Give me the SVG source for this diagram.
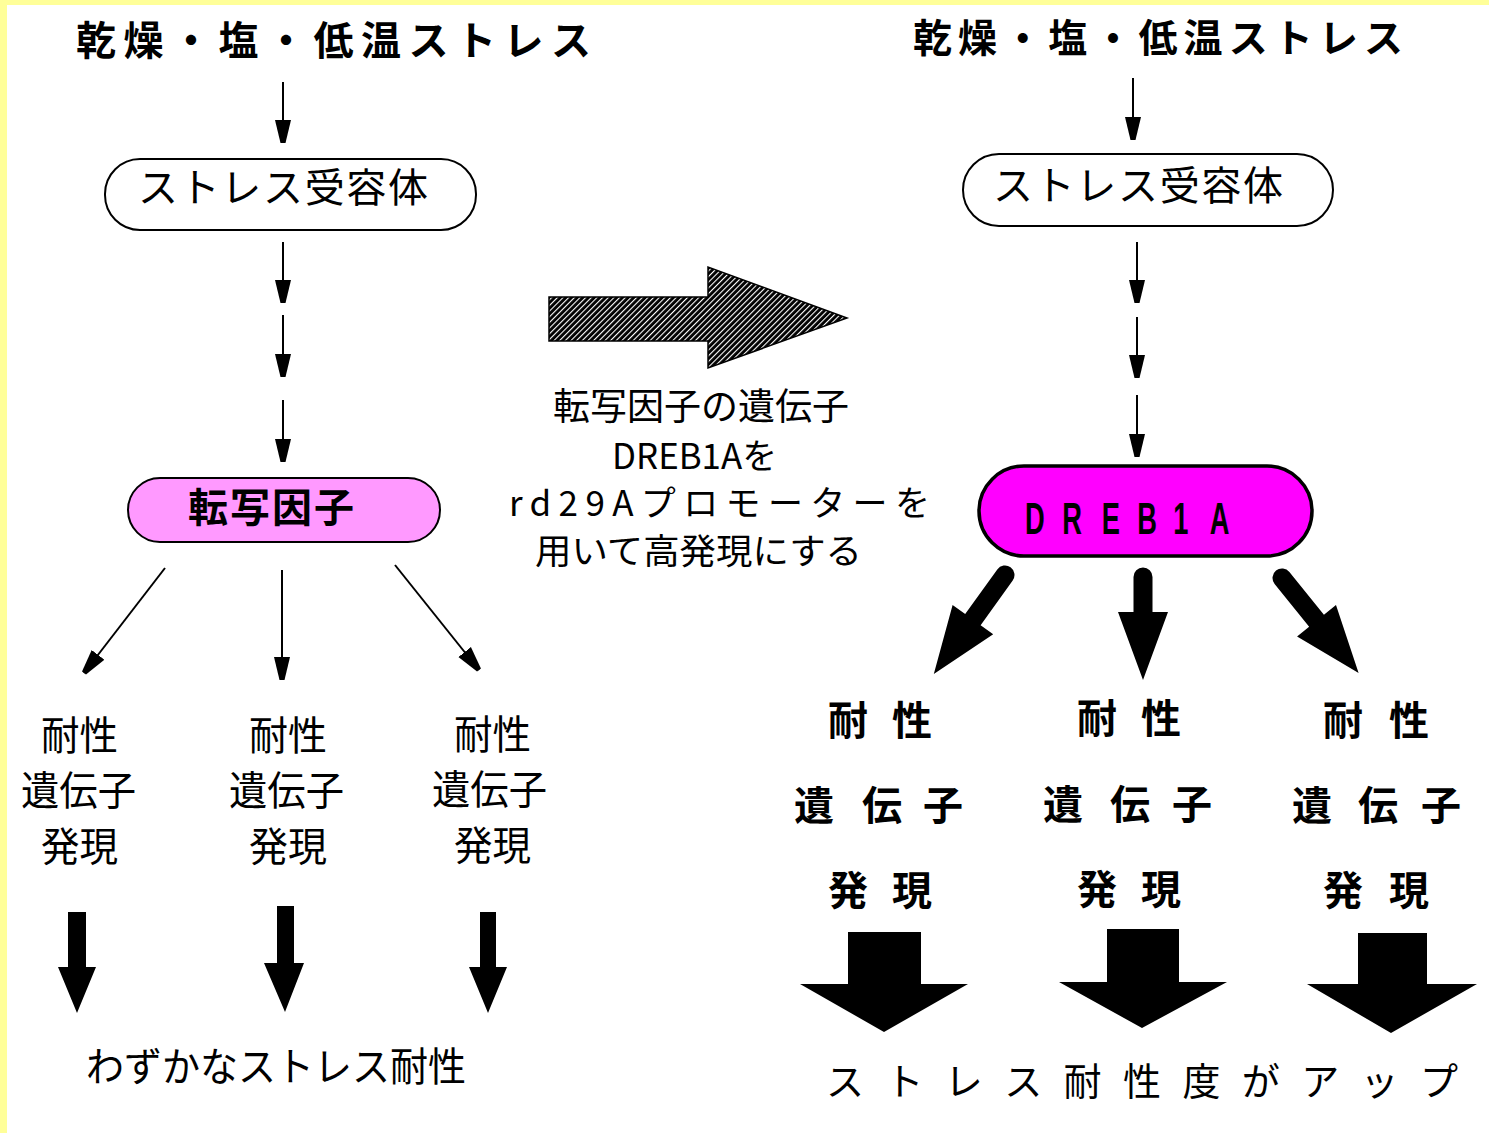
<svg xmlns="http://www.w3.org/2000/svg" width="1489" height="1133" viewBox="0 0 1489 1133">
<style>
.jp{font-family:"Noto Sans CJK JP","Noto Sans CJK SC",sans-serif;fill:#000}
.b{font-weight:bold}
.pill{stroke:#000;stroke-width:2}
.thin{stroke:#000;stroke-width:2;fill:none}
.blk{fill:#000}
</style>
<defs>
<marker id="ah" markerUnits="userSpaceOnUse" markerWidth="30" markerHeight="20" viewBox="0 -10 30 20" refX="23" refY="0" orient="auto">
<path d="M0,-8 L0,8 L23,2.5 L23,-2.5 Z" fill="#000"/>
</marker>
<pattern id="hatch" width="4" height="4" patternUnits="userSpaceOnUse" patternTransform="rotate(45)">
<rect width="4" height="4" fill="#000"/>
<rect x="0" y="0" width="1.1" height="4" fill="#fff"/>
</pattern>
</defs>
<rect x="0" y="0" width="1489" height="1133" fill="#FFFF99"/>
<rect x="7" y="5" width="1482" height="1128" fill="#FFFFFF"/>

<!-- Left column -->
<g id="left-title"><text class="jp b" x="76" y="55" font-size="40" textLength="515" lengthAdjust="spacing">乾燥・塩・低温ストレス</text></g>
<g id="left-receptor">
<rect class="pill" x="105" y="159" width="371" height="71" rx="35" ry="35" fill="#fff"/>
<text class="jp" x="138" y="202" font-size="40" textLength="290" lengthAdjust="spacing">ストレス受容体</text>
</g>
<g id="left-tf">
<rect class="pill" x="128" y="478" width="312" height="64" rx="32" ry="32" fill="#FF99FF"/>
<text class="jp b" x="188" y="522" font-size="40" textLength="166" lengthAdjust="spacing">転写因子</text>
</g>
<g id="left-gene1">
<text class="jp" x="41" y="750" font-size="40" textLength="77" lengthAdjust="spacingAndGlyphs">耐性</text>
<text class="jp" x="21" y="805" font-size="40" textLength="115" lengthAdjust="spacingAndGlyphs">遺伝子</text>
<text class="jp" x="41" y="861" font-size="40" textLength="77" lengthAdjust="spacingAndGlyphs">発現</text>
</g>
<g id="left-gene2">
<text class="jp" x="249" y="750" font-size="40" textLength="78" lengthAdjust="spacingAndGlyphs">耐性</text>
<text class="jp" x="229" y="805" font-size="40" textLength="115" lengthAdjust="spacingAndGlyphs">遺伝子</text>
<text class="jp" x="249" y="861" font-size="40" textLength="78" lengthAdjust="spacingAndGlyphs">発現</text>
</g>
<g id="left-gene3">
<text class="jp" x="454" y="749" font-size="40" textLength="77" lengthAdjust="spacingAndGlyphs">耐性</text>
<text class="jp" x="432" y="804" font-size="40" textLength="115" lengthAdjust="spacingAndGlyphs">遺伝子</text>
<text class="jp" x="454" y="860" font-size="40" textLength="77" lengthAdjust="spacingAndGlyphs">発現</text>
</g>
<g id="left-result"><text class="jp" x="86" y="1081" font-size="40" textLength="380" lengthAdjust="spacingAndGlyphs">わずかなストレス耐性</text></g>

<!-- Middle -->
<g id="middle-arrow">
<path d="M549,297 H708 V267 L847,318 L708,368 V341 H549 Z" fill="url(#hatch)" stroke="#000" stroke-width="1.5"/>
</g>
<g id="middle-label">
<text class="jp" x="553" y="420" font-size="37" textLength="296" lengthAdjust="spacingAndGlyphs">転写因子の遺伝子</text>
<text class="jp" x="612" y="469" font-size="35" textLength="165" lengthAdjust="spacingAndGlyphs">DREB1Aを</text>
<text class="jp" x="509" y="516" font-size="35" textLength="421" lengthAdjust="spacing">rd29Aプロモーターを</text>
<text class="jp" x="535" y="564" font-size="35" textLength="327" lengthAdjust="spacingAndGlyphs">用いて高発現にする</text>
</g>

<!-- Right column -->
<g id="right-title"><text class="jp b" x="913" y="52" font-size="39" textLength="490" lengthAdjust="spacing">乾燥・塩・低温ストレス</text></g>
<g id="right-receptor">
<rect class="pill" x="963" y="154" width="370" height="72" rx="36" ry="36" fill="#fff"/>
<text class="jp" x="993" y="200" font-size="40" textLength="290" lengthAdjust="spacing">ストレス受容体</text>
</g>
<g id="right-dreb1a">
<rect x="979" y="466" width="333" height="90" rx="45" ry="45" fill="#FF00FF" stroke="#000" stroke-width="3.5"/>
<text transform="translate(1025,534) scale(0.62,1)" x="0 60 124 181 239 298" y="0" font-family="Liberation Sans, sans-serif" font-weight="bold" font-size="44" fill="#000">DREB1A</text>
</g>
<g id="right-gene1">
<text class="jp b" font-size="40" x="828 892" y="735">耐性</text>
<text class="jp b" font-size="40" x="794 862 923" y="820">遺伝子</text>
<text class="jp b" font-size="40" x="828 892" y="905">発現</text>
</g>
<g id="right-gene2">
<text class="jp b" font-size="40" x="1077 1141" y="733">耐性</text>
<text class="jp b" font-size="40" x="1043 1110 1172" y="819">遺伝子</text>
<text class="jp b" font-size="40" x="1077 1141" y="904">発現</text>
</g>
<g id="right-gene3">
<text class="jp b" font-size="40" x="1323 1389" y="735">耐性</text>
<text class="jp b" font-size="40" x="1292 1358 1421" y="820">遺伝子</text>
<text class="jp b" font-size="40" x="1323 1389" y="905">発現</text>
</g>
<g id="right-result"><text class="jp" font-size="38" y="1095" x="826 885.4 944.8 1004.2 1063.6 1123 1182.4 1241.8 1301.2 1360.6 1420">ストレス耐性度がアップ</text></g>

<!-- Connectors -->
<g id="connectors">
<line class="thin" x1="283" y1="82" x2="283" y2="143" marker-end="url(#ah)"/>
<line class="thin" x1="283" y1="242" x2="283" y2="303" marker-end="url(#ah)"/>
<line class="thin" x1="283" y1="315" x2="283" y2="377" marker-end="url(#ah)"/>
<line class="thin" x1="283" y1="400" x2="283" y2="462" marker-end="url(#ah)"/>
<line class="thin" x1="165" y1="568" x2="84" y2="673" marker-end="url(#ah)"/>
<line class="thin" x1="282" y1="570" x2="282" y2="680" marker-end="url(#ah)"/>
<line class="thin" x1="395" y1="565" x2="479" y2="670" marker-end="url(#ah)"/>
<path class="blk" d="M68,912 H86 V967 H96 L77,1013 L58,967 H68 Z"/>
<path class="blk" d="M277,906 H294 V963 H304 L285,1012 L264,963 H277 Z"/>
<path class="blk" d="M480,912 H496 V967 H507 L488,1013 L469,967 H480 Z"/>

<line class="thin" x1="1133" y1="78" x2="1133" y2="140" marker-end="url(#ah)"/>
<line class="thin" x1="1137" y1="242" x2="1137" y2="303" marker-end="url(#ah)"/>
<line class="thin" x1="1137" y1="317" x2="1137" y2="378" marker-end="url(#ah)"/>
<line class="thin" x1="1137" y1="395" x2="1137" y2="457" marker-end="url(#ah)"/>
<path class="blk" transform="translate(1005,575) rotate(35.7)" d="M-9.5,0 A9.5,9.5 0 0 1 9.5,0 V55 H25 L0,122 L-25,55 H-9.5 Z"/>
<path class="blk" d="M1133.5,577 A9.5,9.5 0 0 1 1152.5,577 V612 H1168 L1143,680 L1118,612 H1133.5 Z"/>
<path class="blk" transform="translate(1282,578) rotate(-38.9)" d="M-9.5,0 A9.5,9.5 0 0 1 9.5,0 V55 H25 L0,122 L-25,55 H-9.5 Z"/>
<path class="blk" d="M848,932 H921 V984 H968 L884,1032 L800,984 H848 Z"/>
<path class="blk" d="M1107,929 H1179 V982 H1227 L1142,1028 L1059,982 H1107 Z"/>
<path class="blk" d="M1358,933 H1427 V984 H1477 L1391,1033 L1307,984 H1358 Z"/>
</g>
</svg>
